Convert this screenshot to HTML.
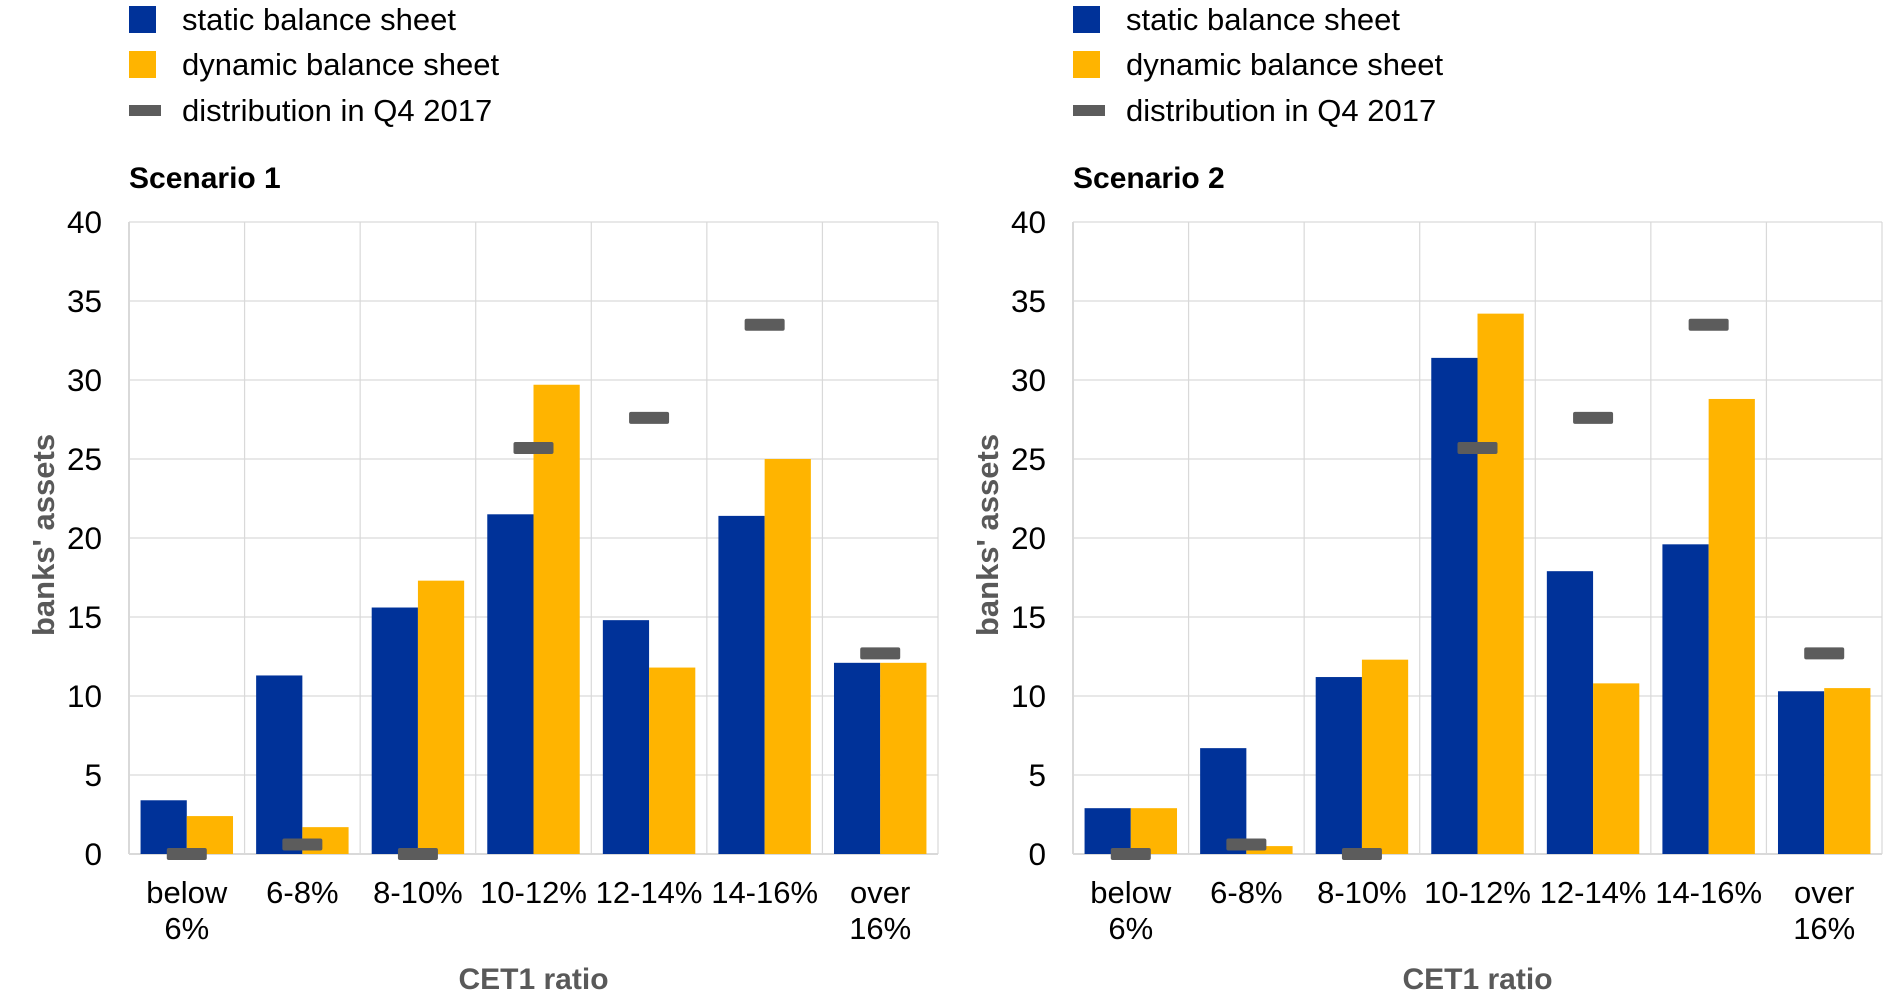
<!DOCTYPE html>
<html><head><meta charset="utf-8"><style>
html,body{margin:0;padding:0;background:#fff;}
svg{display:block;font-family:"Liberation Sans",Arial,sans-serif;}
</style></head><body>
<svg id="s" width="1890" height="1006" viewBox="0 0 1890 1006" xmlns="http://www.w3.org/2000/svg"></svg>
<script>
(function(){
var S=document.getElementById('s');var h='';
var cats=[['below','6%'],['6-8%'],['8-10%'],['10-12%'],['12-14%'],['14-16%'],['over','16%']];
var dist=[0,0.6,0,25.7,27.6,33.5,12.7];
var data=[
 {x0:129,t:'Scenario 1',st:[3.4,11.3,15.6,21.5,14.8,21.4,12.1],dy:[2.4,1.7,17.3,29.7,11.8,25.0,12.1]},
 {x0:1073,t:'Scenario 2',st:[2.9,6.7,11.2,31.4,17.9,19.6,10.3],dy:[2.9,0.5,12.3,34.2,10.8,28.8,10.5]}];
var T0=222,ZR=854,W=809,ppu=(ZR-T0)/40,cw=W/7;
data.forEach(function(d){
 var x0=d.x0;
 h+='<rect x="'+x0+'" y="6" width="27" height="27" fill="#003299"/>';
 h+='<rect x="'+x0+'" y="51" width="27" height="27" fill="#ffb400"/>';
 h+='<rect x="'+x0+'" y="105" width="32" height="11" fill="#5c5c5c"/>';
 h+='<text x="'+(x0+53)+'" y="30" font-size="31">static balance sheet</text>';
 h+='<text x="'+(x0+53)+'" y="75" font-size="31">dynamic balance sheet</text>';
 h+='<text x="'+(x0+53)+'" y="121" font-size="31">distribution in Q4 2017</text>';
 h+='<text x="'+x0+'" y="188" font-size="30" font-weight="bold">'+d.t+'</text>';
 for(var v=0;v<=40;v+=5){var y=ZR-v*ppu;
  h+='<line x1="'+x0+'" x2="'+(x0+W)+'" y1="'+y+'" y2="'+y+'" stroke="#d9d9d9" stroke-width="'+(v==0?2:1.2)+'"/>';
  h+='<text x="'+(x0-27)+'" y="'+(y+11)+'" font-size="31.5" text-anchor="end">'+v+'</text>';}
 for(var i=0;i<=7;i++){var x=x0+i*cw;
  h+='<line x1="'+x+'" x2="'+x+'" y1="'+T0+'" y2="'+ZR+'" stroke="#d9d9d9" stroke-width="'+(i==0?2:1.2)+'"/>';}
 for(var i=0;i<7;i++){var cx=x0+i*cw,bw=cw*0.4,y;
  y=ZR-d.st[i]*ppu;h+='<rect x="'+(cx+cw*0.1)+'" y="'+y+'" width="'+bw+'" height="'+(ZR-y)+'" fill="#003299"/>';
  y=ZR-d.dy[i]*ppu;h+='<rect x="'+(cx+cw*0.5)+'" y="'+y+'" width="'+bw+'" height="'+(ZR-y)+'" fill="#ffb400"/>';
  y=ZR-dist[i]*ppu;h+='<rect x="'+(cx+cw/2-20)+'" y="'+(y-6)+'" width="40" height="12" rx="2" fill="#5c5c5c"/>';
  var L=cats[i];
  h+='<text x="'+(cx+cw/2)+'" y="903" font-size="31" text-anchor="middle">'+L[0]+'</text>';
  if(L[1])h+='<text x="'+(cx+cw/2)+'" y="939" font-size="31" text-anchor="middle">'+L[1]+'</text>';}
 h+='<text x="'+(x0+W/2)+'" y="989" font-size="30" font-weight="bold" fill="#595959" text-anchor="middle">CET1 ratio</text>';
 h+='<text transform="translate('+(x0-75)+',535) rotate(-90)" font-size="31" font-weight="bold" fill="#595959" text-anchor="middle">banks\' assets</text>';
});
S.innerHTML=h;
})();
</script>
</body></html>
